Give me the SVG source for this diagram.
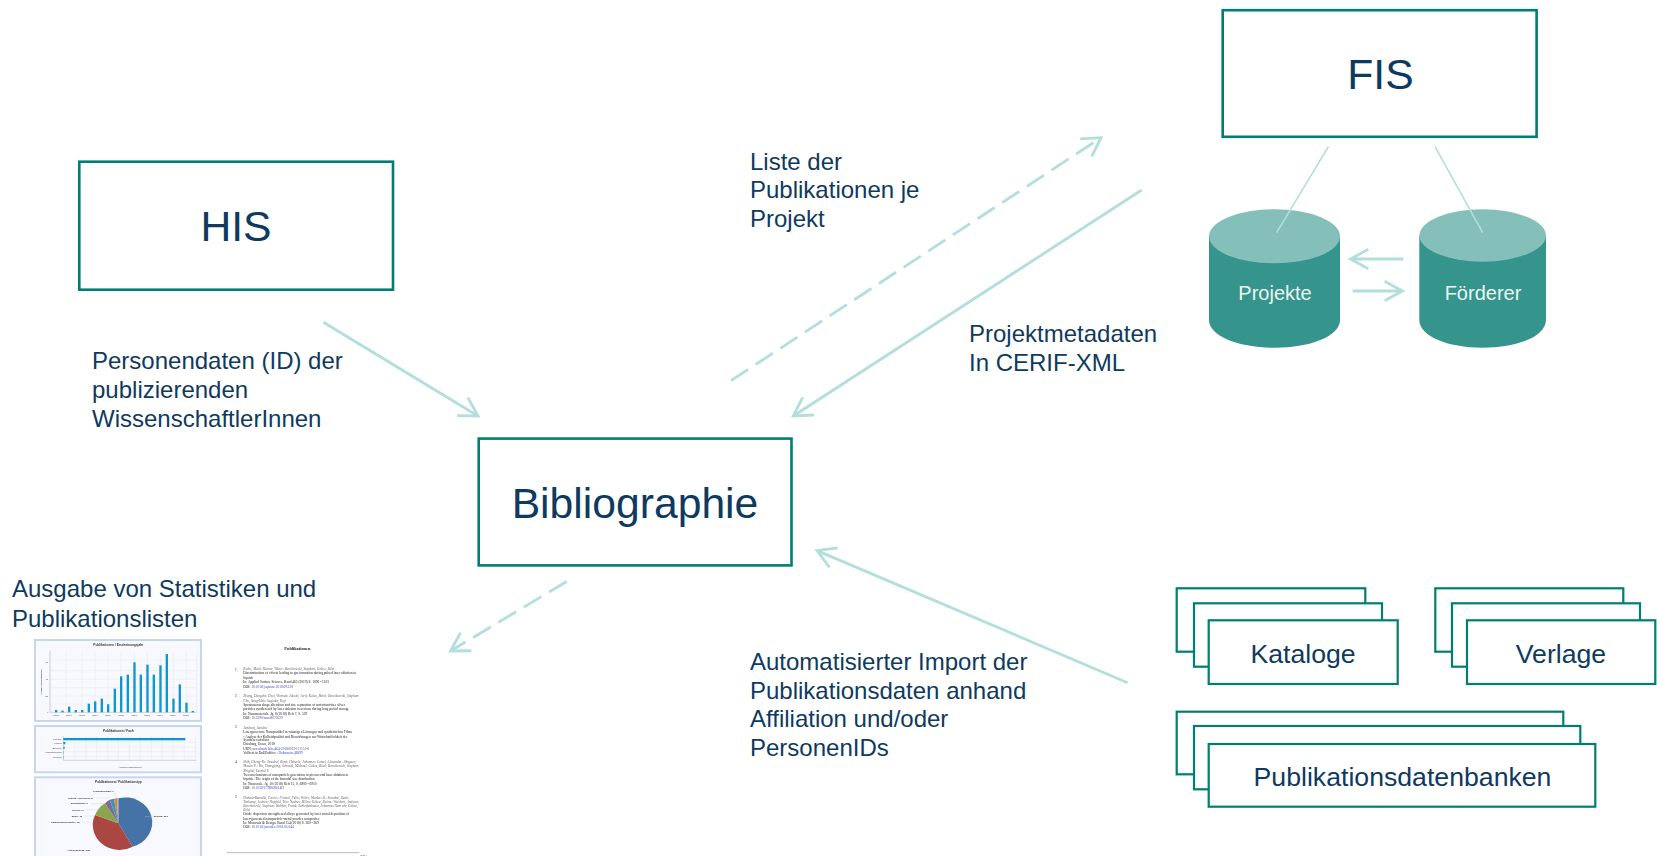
<svg xmlns="http://www.w3.org/2000/svg" width="1657" height="856" viewBox="0 0 1657 856">
<style>
text{font-family:"Liberation Sans",Arial,sans-serif;fill:#0f3a60}
.box{fill:#fff;stroke:#007e72;stroke-width:2.6}
.st{fill:#fff;stroke:#007e72;stroke-width:2.2}
.big{font-size:42.67px;text-anchor:middle}
.lab{font-size:24px}
.mid{font-size:26.67px;text-anchor:middle}
.db{font-size:20px;fill:#eaf6f4;text-anchor:middle}
.con{fill:none;stroke:#b2dfdb;stroke-width:2.8}
.arr{marker-end:url(#open)}
.dash{stroke-dasharray:20.5 9}
.thin{fill:none;stroke:#b2dfdb;stroke-width:1.6}
.top{fill:#85bfb9}
.body{fill:#35948c}
.panel{fill:#f8f9fe;stroke:#c8d5ee;stroke-width:6}
.bar{fill:#0f96cf}
.grid{stroke:#e0e0e0;stroke-width:1;fill:none}
.ct{font-size:9.5px;font-weight:bold;fill:#333;text-anchor:middle}
.cl{font-size:7.5px;fill:#444}
.pl{font-size:7.5px;font-weight:bold;fill:#333}
.doc text{font-family:"Liberation Serif",serif;font-size:10.5px;fill:#222}
.doc .i{font-style:italic;fill:#666}
.doc .u{fill:#3a4fc0}
</style>
<defs>
<marker id="open" markerUnits="userSpaceOnUse" markerWidth="30" markerHeight="30" refX="23" refY="15" orient="auto" viewBox="0 0 30 30"><path d="M5 4.5L23 15L5 25.5" fill="none" stroke="#b2dfdb" stroke-width="2.8" stroke-dasharray="none"/></marker>
<filter id="soft" x="-2%" y="-2%" width="104%" height="104%"><feGaussianBlur stdDeviation="0.9"/></filter>
</defs>

<g id="connectors">
<path class="con arr" d="M323.4 322.3L478 416"/>
<path class="con arr" d="M1141.7 190L793.3 416"/>
<path class="con arr dash" d="M731 380.7L1101 137.7"/>
<path class="con arr dash" d="M566.7 581.5L450.5 651"/>
<path class="con arr" d="M1127.6 682.7L817 550.6"/>
</g>

<g id="node-his"><rect class="box" x="79.3" y="161.7" width="313.7" height="128"/><text class="big" x="236" y="241">HIS</text></g>
<g id="node-bibliographie"><rect class="box" x="478.7" y="438.6" width="312.8" height="126.8"/><text class="big" x="635" y="518">Bibliographie</text></g>
<g id="node-fis"><rect class="box" x="1222.7" y="10.2" width="313.9" height="126.6"/><text class="big" x="1380.5" y="88.7">FIS</text></g>

<g id="node-projekte">
<path class="body" d="M1209 236.3V320C1209 336 1238 347.7 1274.5 347.7S1340 336 1340 320V236.3Z"/>
<ellipse class="top" cx="1274.5" cy="236.3" rx="65.5" ry="27"/>
<text class="db" x="1275" y="300">Projekte</text>
</g>
<g id="node-foerderer">
<path class="body" d="M1419.3 236V320C1419.3 336 1447 347.7 1482.7 347.7S1546 336 1546 320V236Z"/>
<ellipse class="top" cx="1482.7" cy="235.5" rx="63.3" ry="26.2"/>
<text class="db" x="1483" y="300">Förderer</text>
</g>
<g id="db-connectors">
<path class="thin" d="M1328.4 146.7L1276.6 232.7M1435 146.7L1482.7 232.7"/>
<path class="con" d="M1403.4 259H1350.5M1368.3 249.3L1350.5 259L1368.3 268.7M1352.7 291H1402.4M1384.6 281.3L1402.4 291L1384.6 300.7"/>
</g>

<g id="node-kataloge">
<rect class="st" x="1176.7" y="588.3" width="188.6" height="63.4"/>
<rect class="st" x="1194" y="603.3" width="188" height="63.4"/>
<rect class="st" x="1208.7" y="620.3" width="189" height="63.7"/>
<text class="mid" x="1303" y="662.7">Kataloge</text>
</g>
<g id="node-verlage">
<rect class="st" x="1435.3" y="588.3" width="188" height="63.4"/>
<rect class="st" x="1452" y="603.3" width="188" height="63.4"/>
<rect class="st" x="1467" y="620.3" width="188.3" height="63.7"/>
<text class="mid" x="1561" y="662.7">Verlage</text>
</g>
<g id="node-publikationsdatenbanken">
<rect class="st" x="1176.7" y="711.7" width="386.6" height="62.6"/>
<rect class="st" x="1194" y="726" width="386.3" height="63.3"/>
<rect class="st" x="1208.7" y="744" width="386.6" height="62.7"/>
<text class="mid" x="1402.5" y="786">Publikationsdatenbanken</text>
</g>

<g id="labels">
<text class="lab"><tspan x="750" y="170">Liste der</tspan><tspan x="750" y="198">Publikationen je</tspan><tspan x="750" y="227">Projekt</tspan></text>
<text class="lab"><tspan x="969" y="342">Projektmetadaten</tspan><tspan x="969" y="370.6">In CERIF-XML</tspan></text>
<text class="lab"><tspan x="92" y="369">Personendaten (ID) der</tspan><tspan x="92" y="397.6">publizierenden</tspan><tspan x="92" y="426.5">WissenschaftlerInnen</tspan></text>
<text class="lab"><tspan x="750" y="670">Automatisierter Import der</tspan><tspan x="750" y="698.6">Publikationsdaten anhand</tspan><tspan x="750" y="727">Affiliation und/oder</tspan><tspan x="750" y="755.6">PersonenIDs</tspan></text>
<text class="lab"><tspan x="12" y="597.3">Ausgabe von Statistiken und</tspan><tspan x="12" y="626.7">Publikationslisten</tspan></text>
</g>

<g id="statistics" transform="translate(0 560) scale(.3333)" filter="url(#soft)">
<rect class="panel" x="105" y="240" width="498" height="243"/>
<path class="grid" d="M150 275V457M198 275V457M246 275V457M285 275V457M324 275V457M363 275V457M403 275V457M442 275V457M481 275V457M520 275V457M559 275V457M590 275V457M150 300H590M150 358H590M150 408H590M150 332H590M150 383H590M150 432H590"/>
<path fill="none" stroke="#888" d="M150 272V457H590"/>
<text class="ct" x="355" y="259">Publikationen / Erscheinungsjahr</text>
<text class="cl" transform="translate(126 404) rotate(-90)" font-weight="bold">Anzahl Publikationen</text>
<text class="cl" x="136" y="310">60</text><text class="cl" x="136" y="360">40</text><text class="cl" x="136" y="410">20</text><text class="cl" x="141" y="459">0</text>
<g class="bar">
<rect x="165" y="450" width="7" height="7"/><rect x="184" y="452" width="7" height="5"/><rect x="204" y="440" width="7" height="17"/><rect x="224" y="450" width="7" height="7"/><rect x="243" y="450" width="7" height="7"/><rect x="263" y="431" width="7" height="26"/><rect x="282" y="424" width="7" height="33"/><rect x="302" y="416" width="7" height="41"/><rect x="321" y="433" width="7" height="24"/><rect x="341" y="386" width="7" height="71"/><rect x="360" y="349" width="7" height="108"/><rect x="380" y="344" width="7" height="113"/><rect x="400" y="307" width="7" height="150"/><rect x="419" y="344" width="7" height="113"/><rect x="439" y="314" width="7" height="143"/><rect x="458" y="344" width="7" height="113"/><rect x="478" y="316" width="7" height="141"/><rect x="497" y="282" width="7" height="175"/><rect x="517" y="416" width="7" height="41"/><rect x="536" y="373" width="7" height="84"/><rect x="556" y="428" width="7" height="29"/><rect x="575" y="453" width="7" height="4"/>
</g>
<text class="cl" x="160" y="468">1998</text><text class="cl" x="198" y="468">2000</text><text class="cl" x="238" y="468">2002</text><text class="cl" x="277" y="468">2004</text><text class="cl" x="316" y="468">2006</text><text class="cl" x="355" y="468">2008</text><text class="cl" x="394" y="468">2010</text><text class="cl" x="433" y="468">2012</text><text class="cl" x="472" y="468">2014</text><text class="cl" x="511" y="468">2016</text><text class="cl" x="550" y="468">2018</text>

<rect class="panel" x="105" y="498" width="498" height="139"/>
<text class="ct" x="355" y="516">Publikationen / Fach</text>
<path class="grid" d="M224 528V601M257 528V601M290 528V601M323 528V601M355 528V601M388 528V601M421 528V601M454 528V601M487 528V601M520 528V601M553 528V601M586 528V601M190 547H590M190 561H590M190 575H590M190 589H590"/>
<path fill="none" stroke="#888" d="M190 528V601H590"/>
<rect class="bar" x="190" y="534" width="366" height="7"/><rect class="bar" x="190" y="546" width="6" height="7"/><rect class="bar" x="190" y="560" width="4" height="7"/><rect class="bar" x="190" y="574" width="1" height="7"/><rect class="bar" x="190" y="588" width="1" height="7"/>
<text class="cl" x="185" y="539" text-anchor="end">Chemie</text><text class="cl" x="185" y="552" text-anchor="end">Physik</text><text class="cl" x="185" y="566" text-anchor="end">Biologie</text><text class="cl" x="185" y="580" text-anchor="end">Maschinenbau</text><text class="cl" x="185" y="594" text-anchor="end">Medizin</text>
<text class="cl" x="355" y="623">Anzahl Publikationen</text>

<rect class="panel" x="105" y="652" width="498" height="240"/>
<text class="ct" x="355" y="670">Publikationen / Publikationstyp</text>
<path fill="#4572a7" d="M355 790V715A80 75 0 0 1 398 860Z"/>
<path fill="#aa4643" d="M355 790L398 860A80 75 0 0 1 285 765Z"/>
<path fill="#89a54e" d="M355 790L285 765A80 75 0 0 1 315 730Z"/>
<path fill="#80699b" d="M355 790L315 730A80 75 0 0 1 329 719Z"/>
<path fill="#3d96ae" d="M355 790L329 719A80 75 0 0 1 342 716Z"/>
<path fill="#db843d" d="M355 790L342 716A80 75 0 0 1 351 715Z"/>
<path fill="#92a8cd" d="M355 790L351 715A80 75 0 0 1 355 715Z"/>
<path fill="none" stroke="#c8cdd6" stroke-width="1" d="M435 770H458M290 862L300 855M246 787H272M252 768H285M256 749H295M272 731H315M290 714H330M345 695L349 714"/>
<text class="pl" x="461" y="770">Beitrag: 231</text>
<text class="pl" x="202" y="874">Artikel/Beitrag: 188</text>
<text class="pl" x="153" y="789">Sammelband/Kapitel: 32</text>
<text class="pl" x="215" y="771">Buch: 16</text>
<text class="pl" x="216" y="752">Thesis: 14</text>
<text class="pl" x="212" y="733">Dissertation: 9</text>
<text class="pl" x="203" y="716">Vortrag / Nachweis: 5</text>
<text class="pl" x="279" y="697">Lexikonbeitrag: 1</text>
</g>

<g id="publication-list" class="doc" transform="translate(210 620) scale(.3333)" filter="url(#soft)">
<text x="262" y="90" text-anchor="middle" font-weight="bold" style="font-size:13px">Publikationen</text>
<text x="75" y="153">1</text>
<text class="i" x="100" y="150">Kalus, Mark; Reimer, Viktor; Barcikowski, Stephan; Gökce, Bilal</text>
<text x="100" y="163">Discrimination of effects leading to gas formation during pulsed laser ablation in</text>
<text x="100" y="176">liquids</text>
<text x="100" y="190">In: Applied Surface Science. Band 465 (2019) S. 1096 - 1103</text>
<text x="100" y="203">DOI: <tspan class="u">10.1016/j.apsusc.2018.09.120</tspan></text>
<text x="75" y="232">2</text>
<text class="i" x="100" y="232">Zhang, Dongshi; Choi, Wonsuk; Jakobi, Jurij; Kalus, Mark; Barcikowski, Stephan;</text>
<text class="i" x="100" y="245">Cho, Sung-Hak; Sugioka, Koji</text>
<text x="100" y="258">Spontaneous shape alteration and size separation of surfactant-free silver</text>
<text x="100" y="271">particles synthesized by laser ablation in acetone during long period storage</text>
<text x="100" y="284">In: Nanomaterials. Jg. 8 (2018) Heft 7, S. 529</text>
<text x="100" y="297">DOI: <tspan class="u">10.3390/nano8070529</tspan></text>
<text x="75" y="325">3</text>
<text class="i" x="100" y="327">Jendrzej, Sandra</text>
<text x="100" y="340">Lasergenerierte Nanopartikel in wässrigen Lösungen und synthetischen Films</text>
<text x="100" y="353">- Analyse der Kolloidqualität und Biowirkungen zur Wirtschaftlichkeit der</text>
<text x="100" y="362">Syntheseverfahren</text>
<text x="100" y="375">Duisburg, Essen, 2018</text>
<text x="100" y="389">URN: <tspan class="u">urn:nbn:de:hbz:464-20180913-111151-0</tspan></text>
<text x="100" y="402">Volltext in DuEPublico : <tspan class="u">Dokument 46899</tspan></text>
<text x="75" y="428">4</text>
<text class="i" x="100" y="429">Shih, Cheng-Yu; Streubel, René; Heberle, Johannes; Letzel, Alexander; Shugaev,</text>
<text class="i" x="100" y="442">Maxim V.; Wu, Chengping; Schmidt, Michael; Gökce, Bilal; Barcikowski, Stephan;</text>
<text class="i" x="100" y="455">Zhigilei, Leonid V.</text>
<text x="100" y="468">Two mechanisms of nanoparticle generation in picosecond laser ablation in</text>
<text x="100" y="481">liquids : The origin of the bimodal size distribution</text>
<text x="100" y="494">In: Nanoscale. Jg. 10 (2018) Heft 15, S. 6900 - 6910</text>
<text x="100" y="507">DOI: <tspan class="u">10.1039/C7NR08614H</tspan></text>
<text x="75" y="533">5</text>
<text class="i" x="100" y="536">Doñate-Buendía, Carlos; Frömel, Felix; Wilms, Markus B.; Streubel, René;</text>
<text class="i" x="100" y="549">Tenkamp, Jochen; Hupfeld, Tim; Nachev, Milen; Gökce, Emine; Weisheit, Andreas;</text>
<text class="i" x="100" y="562">Barcikowski, Stephan; Walther, Frank; Schleifenbaum, Johannes Henrich; Gökce,</text>
<text class="i" x="100" y="573">Bilal</text>
<text x="100" y="586">Oxide dispersion strengthened alloys generated by laser metal deposition of</text>
<text x="100" y="599">laser-generated nanoparticle-metal powder composites</text>
<text x="100" y="612">In: Materials &amp; Design. Band 154 (2018) S. 360 - 369</text>
<text x="100" y="625">DOI: <tspan class="u">10.1016/j.matdes.2018.05.044</tspan></text>
<path d="M50 698H448" stroke="#777" stroke-width="1.5" fill="none"/>
<text x="450" y="707" style="font-size:8px">Seite 1</text>
</g>
</svg>
